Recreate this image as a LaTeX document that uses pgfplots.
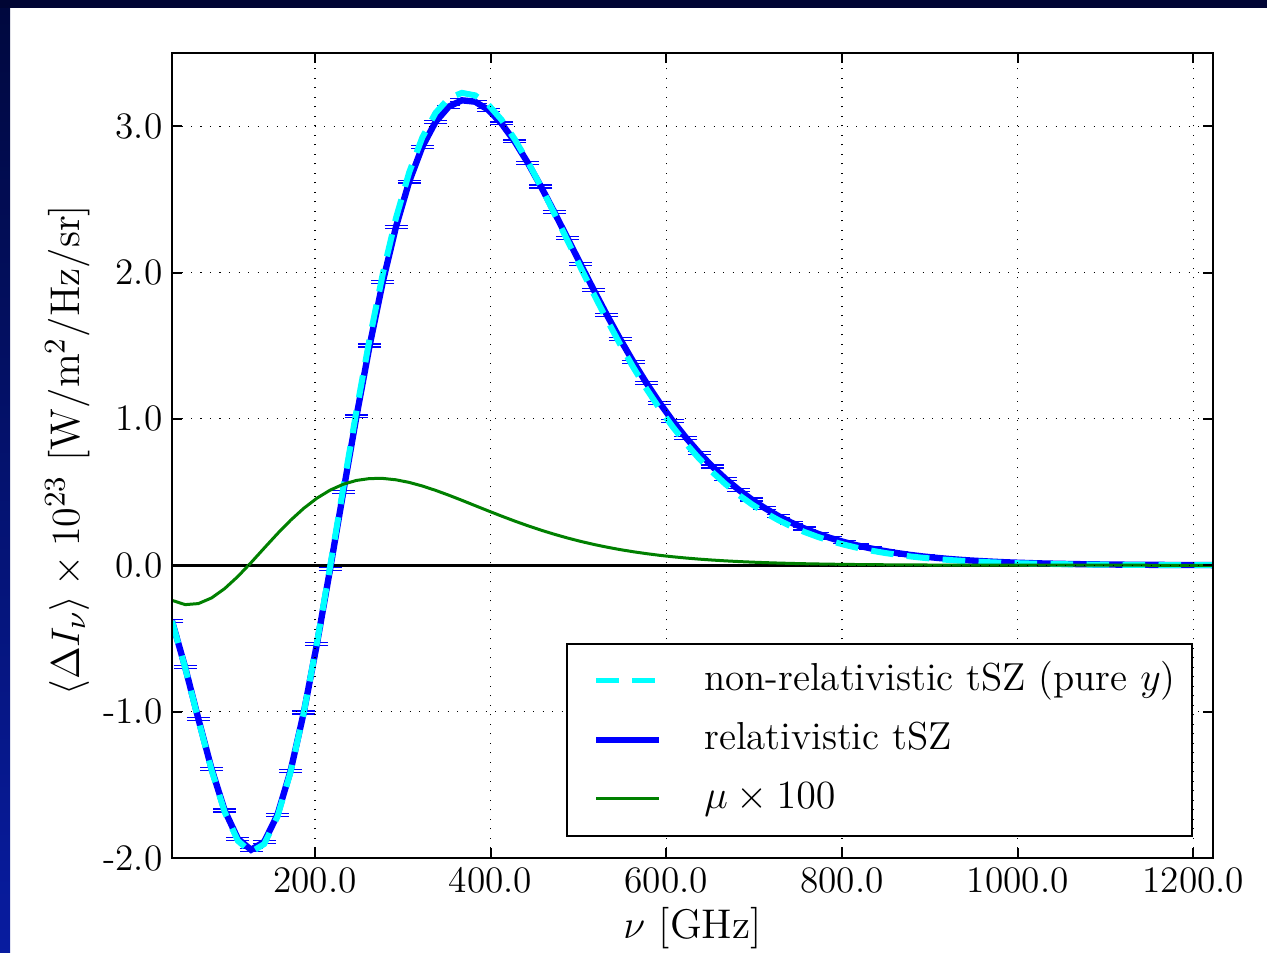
\documentclass[border=0pt]{standalone}
\usepackage{pgfplots}
\pgfplotsset{compat=1.18}
\usepackage{pgfplotstable}
\definecolor{navytop}{RGB}{0,5,52}
\definecolor{navyleftT}{RGB}{0,8,62}
\definecolor{navyleftB}{RGB}{8,28,160}
\definecolor{mplgreen}{RGB}{0,128,0}
\definecolor{mplcyan}{RGB}{0,255,255}
\definecolor{mplblue}{RGB}{0,0,255}
\newcommand\fs{\fontsize{11.2}{13.4}\selectfont}
\newcommand\fleg{\fontsize{11.7}{14}\selectfont}
\newcommand\fl{\fontsize{12.45}{15}\selectfont}
\pgfplotstableread{
nu nonrel rel mu
37.3 -0.3821 -0.3805 -0.2397
52.3 -0.7002 -0.6969 -0.2689
67.3 -1.0547 -1.0490 -0.2619
82.3 -1.3985 -1.3899 -0.2234
97.3 -1.6869 -1.6753 -0.1592
112.3 -1.8827 -1.8686 -0.0764
127.3 -1.9595 -1.9439 0.0181
142.3 -1.9046 -1.8893 0.1174
157.3 -1.7183 -1.7054 0.2155
172.3 -1.4122 -1.4041 0.3074
187.3 -1.0071 -1.0061 0.3892
202.3 -0.5292 -0.5372 0.4584
217.3 -0.0073 -0.0254 0.5133
232.3 0.5297 0.5010 0.5537
247.3 1.0560 1.0171 0.5797
262.3 1.5493 1.5013 0.5925
277.3 1.9926 1.9373 0.5933
292.3 2.3734 2.3130 0.5839
307.3 2.6846 2.6214 0.5661
322.3 2.9235 2.8601 0.5415
337.3 3.0906 3.0293 0.5119
352.3 3.1902 3.1332 0.4789
367.3 3.2277 3.1768 0.4438
382.3 3.2105 3.1671 0.4076
397.3 3.1469 3.1119 0.3716
412.3 3.0448 3.0189 0.3363
427.3 2.9125 2.8958 0.3023
442.3 2.7574 2.7498 0.2701
457.3 2.5866 2.5876 0.2400
472.3 2.4061 2.4151 0.2122
487.3 2.2209 2.2371 0.1866
502.3 2.0358 2.0583 0.1634
517.3 1.8540 1.8819 0.1425
532.3 1.6783 1.7105 0.1238
547.3 1.5109 1.5464 0.1071
562.3 1.3532 1.3912 0.0924
577.3 1.2061 1.2457 0.0794
592.3 1.0700 1.1104 0.0680
607.3 0.9454 0.9860 0.0581
622.3 0.8319 0.8721 0.0495
637.3 0.7293 0.7686 0.0420
652.3 0.6371 0.6751 0.0356
667.3 0.5547 0.5911 0.0301
682.3 0.4814 0.5160 0.0254
697.3 0.4166 0.4492 0.0214
712.3 0.3594 0.3899 0.0180
727.3 0.3092 0.3375 0.0151
742.3 0.2654 0.2915 0.0126
757.3 0.2272 0.2512 0.0105
772.3 0.1940 0.2159 0.0088
787.3 0.1653 0.1852 0.0073
802.3 0.1406 0.1587 0.0061
817.3 0.1193 0.1356 0.0050
832.3 0.1010 0.1156 0.0042
847.3 0.0854 0.0985 0.0035
862.3 0.0720 0.0836 0.0029
877.3 0.0607 0.0710 0.0024
892.3 0.0510 0.0602 0.0019
907.3 0.0428 0.0509 0.0016
922.3 0.0359 0.0430 0.0013
937.3 0.0300 0.0362 0.0011
952.3 0.0251 0.0306 0.0009
967.3 0.0209 0.0257 0.0007
982.3 0.0174 0.0215 0.0006
997.3 0.0145 0.0181 0.0005
1012.3 0.0121 0.0152 0.0004
1027.3 0.0100 0.0127 0.0003
1042.3 0.0083 0.0106 0.0003
1057.3 0.0069 0.0089 0.0002
1072.3 0.0057 0.0074 0.0002
1087.3 0.0047 0.0062 0.0001
1102.3 0.0039 0.0052 0.0001
1117.3 0.0032 0.0043 0.0001
1132.3 0.0026 0.0035 0.0001
1147.3 0.0022 0.0030 0.0001
1162.3 0.0018 0.0025 0.0000
1177.3 0.0015 0.0021 0.0000
1192.3 0.0012 0.0017 0.0000
1207.3 0.0010 0.0014 0.0000
1222.3 0.0008 0.0012 0.0000
}\datatab
\begin{document}
\begin{tikzpicture}
\useasboundingbox (0,0) rectangle (380.1pt,285.9pt);
\fill[white] (0,0) rectangle (380.1pt,285.9pt);
\shade[top color=navyleftT, bottom color=navyleftB] (0,0) rectangle (3pt,285.9pt);
\fill[navytop] (0,283.5pt) rectangle (380.1pt,285.9pt);
\begin{axis}[
  at={(51.6pt,28.5pt)}, anchor=south west,
  scale only axis, width=312.3pt, height=241.5pt,
  xmin=37.3, xmax=1222.3, ymin=-2, ymax=3.5,
  xtick={200,400,600,800,1000,1200},
  xticklabels={200.0,400.0,600.0,800.0,1000.0,1200.0},
  ytick={-2,-1,0,1,2,3},
  yticklabels={-2.0,-1.0,0.0,1.0,2.0,3.0},
  minor tick num=0,
  tick align=inside,
  major tick length=3pt,
  tick style={black, line width=0.6pt},
  axis line style={black, line width=0.8pt},
  grid=major,
  major grid style={black, line width=0.35pt, dash pattern=on 0.35pt off 2.5pt},
  axis on top,
  ticklabel style={font=\fs, inner sep=0pt},
  xticklabel style={anchor=north, yshift=-2.7pt},
  yticklabel style={anchor=east, xshift=-2.7pt},
  xlabel={$\nu$ [GHz]},
  ylabel={$\langle \Delta I_{\nu} \rangle \times 10^{23}$ [W/m$^2$/Hz/sr]},
  every axis x label/.style={at={(axis description cs:0.5,0)}, anchor=north, inner sep=0pt, yshift=-14.5pt, font=\fl},
  every axis y label/.style={at={(axis description cs:-0.0893,0.5068)}, rotate=90, anchor=base, inner sep=0pt, font=\fl},
  legend style={at={(0.9808,0.0261)}, anchor=south east, draw=black, line width=0.7pt, fill=white,
    inner xsep=4.8pt, inner ysep=5.25pt, row sep=6pt, font=\fleg,
    nodes={inner sep=0pt, text height=8.8pt, text depth=2.9pt}},
  legend cell align=left,
  legend image code/.code={\path[draw=none, fill=none] (-3.9pt,0pt) -- (32.4pt,0pt); \draw[#1] (0pt,0pt) -- (18.9pt,0pt);},
]
\addlegendimage{mplcyan, line width=1.6pt, dash pattern=on 6.8pt off 4pt}
\addlegendentry{non-relativistic tSZ (pure $y$)}
\addlegendimage{mplblue, line width=1.7pt}
\addlegendentry{relativistic tSZ}
\addlegendimage{mplgreen, line width=1pt}
\addlegendentry{$\mu \times 100$}
\addplot[black, line width=0.8pt, forget plot] coordinates {(37.3,0) (1222.3,0)};
\addplot[mplblue, line width=1.9pt, forget plot,
  error bars/.cd, y dir=both, y fixed=0.01,
  error bar style={mplblue, line width=0.35pt, solid},
  error mark options={mplblue, line width=0.35pt, mark size=3.45pt, rotate=90}]
  table[x=nu, y=rel] {\datatab};
\addplot[mplcyan, line width=1.8pt, dash pattern=on 6.8pt off 4pt, forget plot] table[x=nu, y=nonrel] {\datatab};
\addplot[mplgreen, line width=0.9pt, forget plot] table[x=nu, y=mu] {\datatab};
\end{axis}
\end{tikzpicture}
\end{document}
